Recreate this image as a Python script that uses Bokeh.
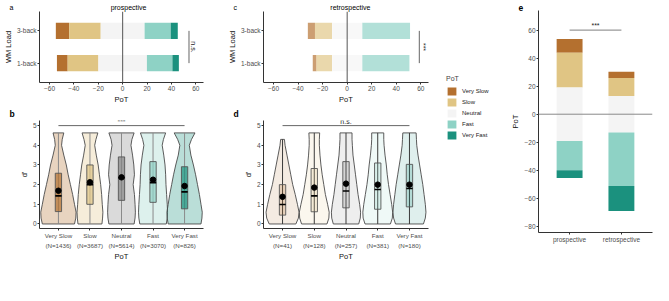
import numpy as np
from bokeh.plotting import figure
from bokeh.layouts import row, column
from bokeh.models import (Range1d, FixedTicker, Span, Title, Legend, LegendItem,
                          ColumnDataSource, LinearAxis)
from bokeh.core.properties import value
from bokeh.embed import file_html
from bokeh.resources import INLINE

FONT = "Liberation Sans"

# ---------------- data ----------------
levels = ["Very Slow", "Slow", "Neutral", "Fast", "Very Fast"]
bar_colors = ["#b4702f", "#e0c584", "#f4f4f4", "#8ed2c5", "#1b917e"]
vio_colors = ["#b4702f", "#e0c584", "#858585", "#8ed2c5", "#1b917e"]

loads = ["1-back", "3-back"]
# percentages per PoT level (Very Slow, Slow, Neutral, Fast, Very Fast)
pro_1back = [8.8, 25.2, 39.8, 20.9, 5.3]
pro_3back = [10.9, 25.9, 36.0, 21.4, 5.8]
retro_1back = [3.0, 12.7, 24.7, 38.4, 0.0]
retro_3back = [5.8, 13.9, 24.7, 38.9, 0.0]

e_groups = ["prospective", "retrospective"]
e_prosp = [9.8, 24.8, 38.2, 20.8, 5.6]
e_retro = [4.4, 12.9, 26.0, 38.2, 17.9]

# violin density profile (half widths, category units) at these d' values
vio_y = [0, 0.3, 0.6, 1.0, 1.5, 2.0, 2.5, 3.0, 3.5, 4.0, 4.3, 4.63]
b_hw = [
    [0.51, 0.55, 0.56, 0.51, 0.45, 0.38, 0.31, 0.25, 0.17, 0.10, 0.12, 0.17],
    [0.38, 0.40, 0.41, 0.39, 0.37, 0.34, 0.30, 0.26, 0.20, 0.15, 0.19, 0.25],
    [0.40, 0.43, 0.44, 0.43, 0.41, 0.37, 0.41, 0.39, 0.35, 0.30, 0.33, 0.40],
    [0.42, 0.45, 0.46, 0.45, 0.43, 0.41, 0.40, 0.38, 0.34, 0.29, 0.33, 0.40],
    [0.52, 0.55, 0.56, 0.52, 0.47, 0.41, 0.35, 0.28, 0.20, 0.15, 0.22, 0.33],
]
b_max = [4.63, 4.63, 4.63, 4.63, 4.63]
b_q1 = [0.63, 1.0, 1.2, 1.1, 0.77]
b_med = [1.43, 2.0, 2.35, 2.1, 1.63]
b_q3 = [2.58, 3.0, 3.41, 3.17, 2.91]
b_mean = [1.69, 2.12, 2.37, 2.25, 1.93]
b_n = [1436, 3687, 5614, 3070, 826]

d_hw = [
    [0.42, 0.50, 0.52, 0.47, 0.40, 0.32, 0.26, 0.20, 0.14, 0.08, 0.06, 0.0],
    [0.40, 0.46, 0.47, 0.42, 0.35, 0.30, 0.25, 0.21, 0.18, 0.16, 0.16, 0.17],
    [0.40, 0.45, 0.46, 0.43, 0.38, 0.34, 0.30, 0.26, 0.22, 0.20, 0.19, 0.19],
    [0.40, 0.46, 0.47, 0.44, 0.39, 0.34, 0.30, 0.27, 0.23, 0.20, 0.19, 0.19],
    [0.44, 0.50, 0.52, 0.50, 0.46, 0.42, 0.37, 0.32, 0.27, 0.23, 0.22, 0.21],
]
d_max = [4.3, 4.63, 4.63, 4.63, 4.63]
d_q1 = [0.45, 0.62, 0.82, 0.75, 0.87]
d_med = [0.99, 1.43, 1.68, 1.75, 1.8]
d_q3 = [2.0, 2.82, 3.17, 3.1, 3.03]
d_mean = [1.38, 1.85, 2.05, 2.0, 2.0]
d_n = [41, 128, 257, 381, 180]

pot_ticks = [-60, -40, -20, 0, 20, 40, 60]
dp_ticks = [0, 1, 2, 3, 4, 5]
e_ticks = [-80, -60, -40, -20, 0, 20, 40, 60]

NB = "\u00a0"
H_TOP, H_BOT = 107, 156          # rows of the left two columns
H_ALL = H_TOP + H_BOT


# ---------------- helpers ----------------
def style_axis(ax, tick_size="6.5px"):
    ax.axis_line_color = "#333333"
    ax.axis_line_width = 1
    ax.major_tick_line_color = "#333333"
    ax.major_tick_out = 2
    ax.major_tick_in = 0
    ax.minor_tick_line_color = None
    ax.minor_tick_out = 0
    ax.minor_tick_in = 0
    ax.major_label_text_font = FONT
    ax.major_label_text_font_size = tick_size
    ax.major_label_text_color = "#4d4d4d"
    ax.major_label_standoff = 1
    ax.axis_label_text_font = FONT
    ax.axis_label_text_font_size = "7.5px"
    ax.axis_label_text_font_style = "normal"
    ax.axis_label_text_color = "#111111"
    ax.axis_label_standoff = 1


def base_fig(w, h, xr, yr, ml, mr, mt, mb):
    p = figure(width=w, height=h, x_range=Range1d(*xr), y_range=Range1d(*yr),
               toolbar_location=None, output_backend="svg", title=None,
               min_border_left=ml, min_border_right=mr,
               min_border_top=mt, min_border_bottom=mb)
    p.grid.visible = False
    p.outline_line_color = None
    p.background_fill_color = "white"
    p.border_fill_color = "white"
    for ax in p.axis:
        style_axis(ax)
    return p


def letter_title(p, txt, off, size="9px", bold=True, valign="bottom", standoff=0):
    t = Title(text=txt, align="left", offset=off, text_font=FONT, text_font_size=size,
              text_font_style="bold" if bold else "normal", vertical_align=valign,
              standoff=standoff, text_color="black")
    p.add_layout(t, "above")


def diverge(vals):
    vs, s, n, f, vf = vals
    lefts = [-n / 2 - s - vs, -n / 2 - s, -n / 2, n / 2, n / 2 + f]
    rights = [-n / 2 - s, -n / 2, n / 2, n / 2 + f, n / 2 + f + vf]
    return lefts, rights


def pot_panel(w, ml, mr, title, rows, alpha, sig_x, sig_txt, sig_txt_x, let, n_sp):
    p = base_fig(w, H_TOP, (-68.2, 66.3), (0.4, 2.6), ml, mr, 11, 25)
    ys, ls, rs, cs = [], [], [], []
    for yi, vals in zip([1, 2], rows):
        l, r = diverge(vals)
        for k in range(5):
            if r[k] - l[k] > 0:
                ys.append(yi); ls.append(l[k]); rs.append(r[k]); cs.append(bar_colors[k])
    src = ColumnDataSource(dict(y=ys, left=ls, right=rs, color=cs))
    p.hbar(y="y", left="left", right="right", height=0.5, fill_color="color",
           fill_alpha=alpha, line_color=None, source=src)
    p.add_layout(Span(location=0, dimension="height", line_color="#555555", line_width=1))
    p.segment(x0=[sig_x], y0=[1], x1=[sig_x], y1=[2], line_color="#666666", line_width=1)
    p.text(x=[sig_txt_x], y=[1.5], text=[sig_txt], angle=-np.pi / 2,
           text_font=value(FONT), text_font_size=value("7px"),
           text_align="center", text_baseline="middle", text_color="#222222")
    p.xaxis.ticker = FixedTicker(ticks=pot_ticks)
    p.yaxis.ticker = FixedTicker(ticks=[1, 2])
    p.yaxis.major_label_overrides = {1: loads[0], 2: loads[1]}
    p.xaxis.axis_label = "PoT"
    p.yaxis.axis_label = "WM Load"
    # panel letter and centred title share one title line
    letter_title(p, let + NB * n_sp + title, -30, size="7px", bold=False,
                 valign="bottom", standoff=1)
    return p


def violin_panel(w, ml, mr, hw, vmax, q1, med, q3, mean, ns, vio_alpha, box_alpha,
                 wcol, sig_txt, let):
    p = base_fig(w, H_BOT, (0.4, 5.6), (-0.23, 5.26), ml, mr, 13, 0)
    xs_all, ys_all = [], []
    for i in range(5):
        c = i + 1
        yy = [y for y in vio_y if y <= vmax[i] + 1e-9]
        hh = hw[i][:len(yy)]
        if yy[-1] < vmax[i]:
            yy = yy + [vmax[i]]
            hh = hh + [hh[-1]]
        xs = [c + h for h in hh] + [c - h for h in hh[::-1]]
        ys = yy + yy[::-1]
        xs_all.append(xs); ys_all.append(ys)
    p.patches(xs=xs_all, ys=ys_all, fill_color=vio_colors, fill_alpha=vio_alpha,
              line_color="#4a4a4a", line_width=0.9)
    cats = [1, 2, 3, 4, 5]
    p.segment(x0=cats, y0=[0] * 5, x1=cats, y1=vmax, line_color=wcol, line_width=1)
    p.vbar(x=cats, bottom=q1, top=q3, width=0.2, fill_color=vio_colors,
           fill_alpha=box_alpha, line_color="#555555", line_width=0.9)
    p.segment(x0=[c - 0.1 for c in cats], y0=med, x1=[c + 0.1 for c in cats], y1=med,
              line_color="black", line_width=1.6)
    p.scatter(x=cats, y=mean, size=5.5, fill_color="black", line_color="black")
    p.segment(x0=[1], y0=[5.0], x1=[5], y1=[5.0], line_color="#666666", line_width=1)
    p.text(x=[3], y=[5.03], text=[sig_txt], text_font=value(FONT),
           text_font_size=value("7px"), text_align="center", text_baseline="bottom",
           text_color="#222222")
    xa = p.below[0]
    style_axis(xa, "6.2px")
    xa.ticker = FixedTicker(ticks=cats)
    xa.major_label_overrides = {c: levels[i] for i, c in enumerate(cats)}
    xa.axis_label = None
    xa2 = LinearAxis(ticker=FixedTicker(ticks=cats),
                     major_label_overrides={c: f"(N={ns[i]})" for i, c in enumerate(cats)},
                     axis_label="PoT")
    style_axis(xa2, "6.2px")
    xa2.axis_line_color = None
    xa2.major_tick_line_color = None
    xa2.major_tick_out = 0
    xa2.major_label_standoff = 0
    xa2.axis_label_standoff = 0
    p.add_layout(xa2, "below")
    p.yaxis.ticker = FixedTicker(ticks=dp_ticks)
    p.yaxis.axis_label = "d'"
    letter_title(p, let, -30, size="8.5px", bold=True, valign="top", standoff=0)
    return p


# ---------------- panels ----------------
pa = pot_panel(224, 31, 19, "prospective", [pro_1back, pro_3back], 1.0,
               54.4, "n.s.", 57.8, "a", 50)
pc = pot_panel(220, 32, 15, "retrospective", [retro_1back, retro_3back], 0.68,
               58.8, "***", 62.4, "c", 48)

pb = violin_panel(224, 31, 21, b_hw, b_max, b_q1, b_med, b_q3, b_mean, b_n,
                  0.3, 0.7, "#8a8a8a", "***", "b")
pd = violin_panel(220, 32, 16, d_hw, d_max, d_q1, d_med, d_q3, d_mean, d_n,
                  0.14, 0.22, "#3a3a3a", "n.s.", "d")

# legend figure
pl = figure(width=64, height=H_ALL, x_range=Range1d(0, 1), y_range=Range1d(0, 1),
            toolbar_location=None, output_backend="svg", min_border=0,
            x_axis_location=None, y_axis_location=None)
pl.grid.visible = False
pl.outline_line_color = None
items = []
for lev, col in zip(levels, bar_colors):
    r = pl.rect(x=[5], y=[5], width=0.1, height=0.1, fill_color=col, line_color=None)
    items.append(LegendItem(label=lev, renderers=[r]))
leg = Legend(items=items, location=(2, 92), title="PoT",
             title_text_font=FONT, title_text_font_size="7px",
             title_text_font_style="normal", title_standoff=4,
             label_text_font=FONT, label_text_font_size="6px",
             label_text_color="#222222",
             glyph_width=11, glyph_height=10, label_height=10, label_standoff=5,
             spacing=1, padding=0, margin=0, border_line_color=None,
             background_fill_alpha=0)
pl.add_layout(leg)

# panel e
pe = base_fig(145, H_ALL, (0.4, 2.6), (-84.4, 74), 25, 1, 10, 31)
xs, bots, tops, cols = [], [], [], []
for gi, vals in zip([1, 2], [e_prosp, e_retro]):
    l, r = diverge(vals)
    for k in range(5):
        # slow side is positive in this panel
        xs.append(gi); bots.append(-r[k]); tops.append(-l[k]); cols.append(bar_colors[k])
esrc = ColumnDataSource(dict(x=xs, bottom=bots, top=tops, color=cols))
pe.vbar(x="x", bottom="bottom", top="top", width=0.5, fill_color="color",
        line_color=None, source=esrc)
pe.add_layout(Span(location=0, dimension="width", line_color="#8a8a8a", line_width=1))
pe.segment(x0=[1], y0=[60], x1=[2], y1=[60], line_color="#999999", line_width=1.2)
pe.text(x=[1.5], y=[60.5], text=["***"], text_font=value(FONT),
        text_font_size=value("7px"), text_align="center", text_baseline="bottom",
        text_color="#222222")
pe.xaxis.ticker = FixedTicker(ticks=[1, 2])
pe.xaxis.major_label_overrides = {1: e_groups[0], 2: e_groups[1]}
pe.yaxis.ticker = FixedTicker(ticks=e_ticks)
pe.yaxis.axis_label = "PoT"
letter_title(pe, "e", -20, size="8.5px", bold=True, valign="bottom", standoff=0)

layout = row(column(pa, pb), column(pc, pd), pl, pe)
open("out.html", "w").write(file_html(layout, INLINE))
